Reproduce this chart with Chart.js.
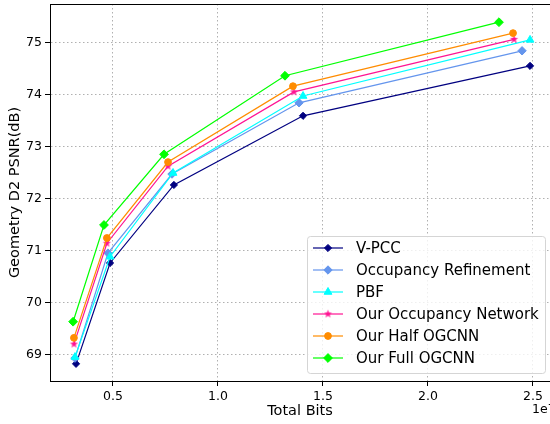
<!DOCTYPE html>
<html>
<head>
<meta charset="utf-8">
<script src="https://cdn.jsdelivr.net/npm/chart.js@4/dist/chart.umd.min.js"></script>
<style>
  html, body { margin: 0; padding: 0; background: #fff; overflow: hidden; }
  #wrap { width: 550px; height: 424px; }
</style>
</head>
<body>
<div id="wrap"><canvas id="c"></canvas></div>
<script>
// Total bits per point (real bits), PSNR in dB
const SERIES_NAMES = ['V-PCC', 'Occupancy Refinement', 'PBF', 'Our Occupancy Network', 'Our Half OGCNN', 'Our Full OGCNN'];

const VPCC_BITS   = [3.24e6, 4.86e6, 7.90e6, 14.05e6, 24.86e6];
const VPCC_PSNR   = [68.82, 70.76, 72.26, 73.59, 74.55];
const OCCREF_BITS = [3.19e6, 4.76e6, 7.81e6, 13.86e6, 24.48e6];
const OCCREF_PSNR = [68.93, 70.95, 72.47, 73.84, 74.84];
const PBF_BITS    = [3.19e6, 4.86e6, 7.86e6, 14.05e6, 24.86e6];
const PBF_PSNR    = [68.95, 70.88, 72.49, 73.97, 75.05];
const OCCNET_BITS = [3.14e6, 4.71e6, 7.62e6, 13.62e6, 24.10e6];
const OCCNET_PSNR = [69.20, 71.14, 72.62, 74.05, 75.06];
const HALF_BITS   = [3.14e6, 4.71e6, 7.62e6, 13.57e6, 24.05e6];
const HALF_PSNR   = [69.32, 71.24, 72.70, 74.16, 75.18];
const FULL_BITS   = [3.10e6, 4.57e6, 7.43e6, 13.19e6, 23.38e6];
const FULL_PSNR   = [69.63, 71.49, 72.85, 74.36, 75.39];

const X_TICKS = [5e6, 10e6, 15e6, 20e6, 25e6];
const Y_TICKS = [69, 70, 71, 72, 73, 74, 75];

const FONT = "'DejaVu Sans', sans-serif";

// matplotlib-ish filled star marker
function starImage(color, r) {
  const s = Math.ceil(r * 2 + 2);
  const cv = document.createElement('canvas');
  cv.width = s; cv.height = s;
  const g = cv.getContext('2d');
  g.fillStyle = color;
  g.beginPath();
  for (let i = 0; i < 10; i++) {
    const rad = i % 2 === 0 ? r : r * 0.42;
    const a = -Math.PI / 2 + i * Math.PI / 5;
    const x = s / 2 + rad * Math.cos(a), y = s / 2 + rad * Math.sin(a);
    i === 0 ? g.moveTo(x, y) : g.lineTo(x, y);
  }
  g.closePath();
  g.fill();
  return cv;
}

const STYLES = [
  { color: '#000080', pointStyle: 'rectRot', radius: 3.6 },
  { color: '#6495ED', pointStyle: 'rectRot', radius: 4.2 },
  { color: '#00FFFF', pointStyle: 'triangle', radius: 4.5 },
  { color: '#FF1493', pointStyle: starImage('#FF1493', 4.2), radius: 4 },
  { color: '#FF8C00', pointStyle: 'circle', radius: 3.4 },
  { color: '#00FF00', pointStyle: 'rectRot', radius: 4.4 },
];

const XS = [VPCC_BITS, OCCREF_BITS, PBF_BITS, OCCNET_BITS, HALF_BITS, FULL_BITS];
const YS = [VPCC_PSNR, OCCREF_PSNR, PBF_PSNR, OCCNET_PSNR, HALF_PSNR, FULL_PSNR];

const datasets = SERIES_NAMES.map((name, i) => ({
  label: name,
  data: XS[i].map((x, k) => ({ x, y: YS[i][k] })),
  borderColor: STYLES[i].color,
  backgroundColor: STYLES[i].color,
  pointBackgroundColor: STYLES[i].color,
  pointBorderColor: STYLES[i].color,
  pointStyle: STYLES[i].pointStyle,
  pointRadius: STYLES[i].radius,
  pointBorderWidth: 1,
  borderWidth: 1.2,
  tension: 0,
  order: SERIES_NAMES.length - i,
}));

// top frame line + the "1e7" offset text
const framePlugin = {
  id: 'frame',
  afterDraw(chart) {
    const { ctx, chartArea: a } = chart;
    ctx.save();
    ctx.strokeStyle = '#000';
    ctx.lineWidth = 1;
    ctx.beginPath();
    ctx.moveTo(a.left, a.top + 0.5);
    ctx.lineTo(a.right, a.top + 0.5);
    ctx.stroke();
    ctx.fillStyle = '#000';
    ctx.font = '12.5px ' + FONT;
    ctx.textBaseline = 'middle';
    ctx.textAlign = 'left';
    ctx.fillText('1e7', 532, 410);
    ctx.restore();
  }
};

// legend box in the lower right, like matplotlib's
const legendPlugin = {
  id: 'mplLegend',
  afterDraw(chart) {
    const { ctx } = chart;
    const x0 = 307, y0 = 236, w = 238, h = 137, rowH = 22;
    ctx.save();
    ctx.beginPath();
    ctx.roundRect(x0 + 0.5, y0 + 0.5, w, h, 3);
    ctx.fillStyle = 'rgba(255,255,255,0.8)';
    ctx.fill();
    ctx.strokeStyle = '#d5d5d5';
    ctx.lineWidth = 1;
    ctx.stroke();
    chart.data.datasets.forEach((ds, i) => {
      const y = y0 + 12 + i * rowH;
      ctx.strokeStyle = ds.borderColor;
      ctx.lineWidth = 1.2;
      ctx.beginPath();
      ctx.moveTo(313, y);
      ctx.lineTo(343, y);
      ctx.stroke();
      ctx.fillStyle = ds.pointBackgroundColor;
      ctx.strokeStyle = ds.pointBorderColor;
      ctx.lineWidth = 1;
      Chart.helpers.drawPoint(ctx, { pointStyle: ds.pointStyle, radius: ds.pointRadius, rotation: 0, borderWidth: 1 }, 328, y);
      ctx.fillStyle = '#000';
      ctx.font = '15px ' + FONT;
      ctx.textBaseline = 'middle';
      ctx.textAlign = 'left';
      ctx.fillText(ds.label, 356, y + 1);
    });
    ctx.restore();
  }
};

const gridStyle = {
  color: '#b0b0b0',
  lineWidth: 1,
  tickColor: '#000',
  tickLength: 5,
  tickWidth: 1,
  tickBorderDash: [],
};

new Chart(document.getElementById('c'), {
  type: 'line',
  data: { datasets },
  options: {
    responsive: true, maintainAspectRatio: false,
    animation: false,
    layout: { autoPadding: false, padding: { top: 4, right: 0, left: 0, bottom: 0 } },
    plugins: { legend: { display: false }, tooltip: { enabled: false } },
    scales: {
      x: {
        type: 'linear',
        min: 2e6, max: 25.81e6,
        afterBuildTicks: s => { s.ticks = X_TICKS.map(v => ({ value: v })); },
        afterFit: s => { s.height = 43; s.paddingLeft = 0; s.paddingRight = 0; },
        grid: { ...gridStyle },
        border: { color: '#000', width: 1, dash: [1.5, 2.5] },
        ticks: {
          color: '#000', padding: 3, maxRotation: 0,
          font: { family: FONT, size: 12.5 },
          callback: v => (v / 1e7).toFixed(1),
        },
        title: { display: true, text: 'Total Bits', color: '#000', font: { family: FONT, size: 14.5 }, padding: { top: 0, bottom: 4 } },
      },
      y: {
        type: 'linear',
        min: 68.49, max: 75.74,
        afterBuildTicks: s => { s.ticks = Y_TICKS.map(v => ({ value: v })); },
        afterFit: s => { s.width = 50; s.paddingTop = 0; s.paddingBottom = 0; },
        grid: { ...gridStyle },
        border: { color: '#000', width: 1, dash: [1.5, 2.5] },
        ticks: {
          color: '#000', padding: 3,
          font: { family: FONT, size: 12.5 },
          callback: v => String(v),
        },
        title: { display: true, text: 'Geometry D2 PSNR(dB)', color: '#000', font: { family: FONT, size: 14.5 }, padding: { top: 7, bottom: 0 } },
      },
    },
  },
  plugins: [framePlugin, legendPlugin],
});
</script>
</body>
</html>
